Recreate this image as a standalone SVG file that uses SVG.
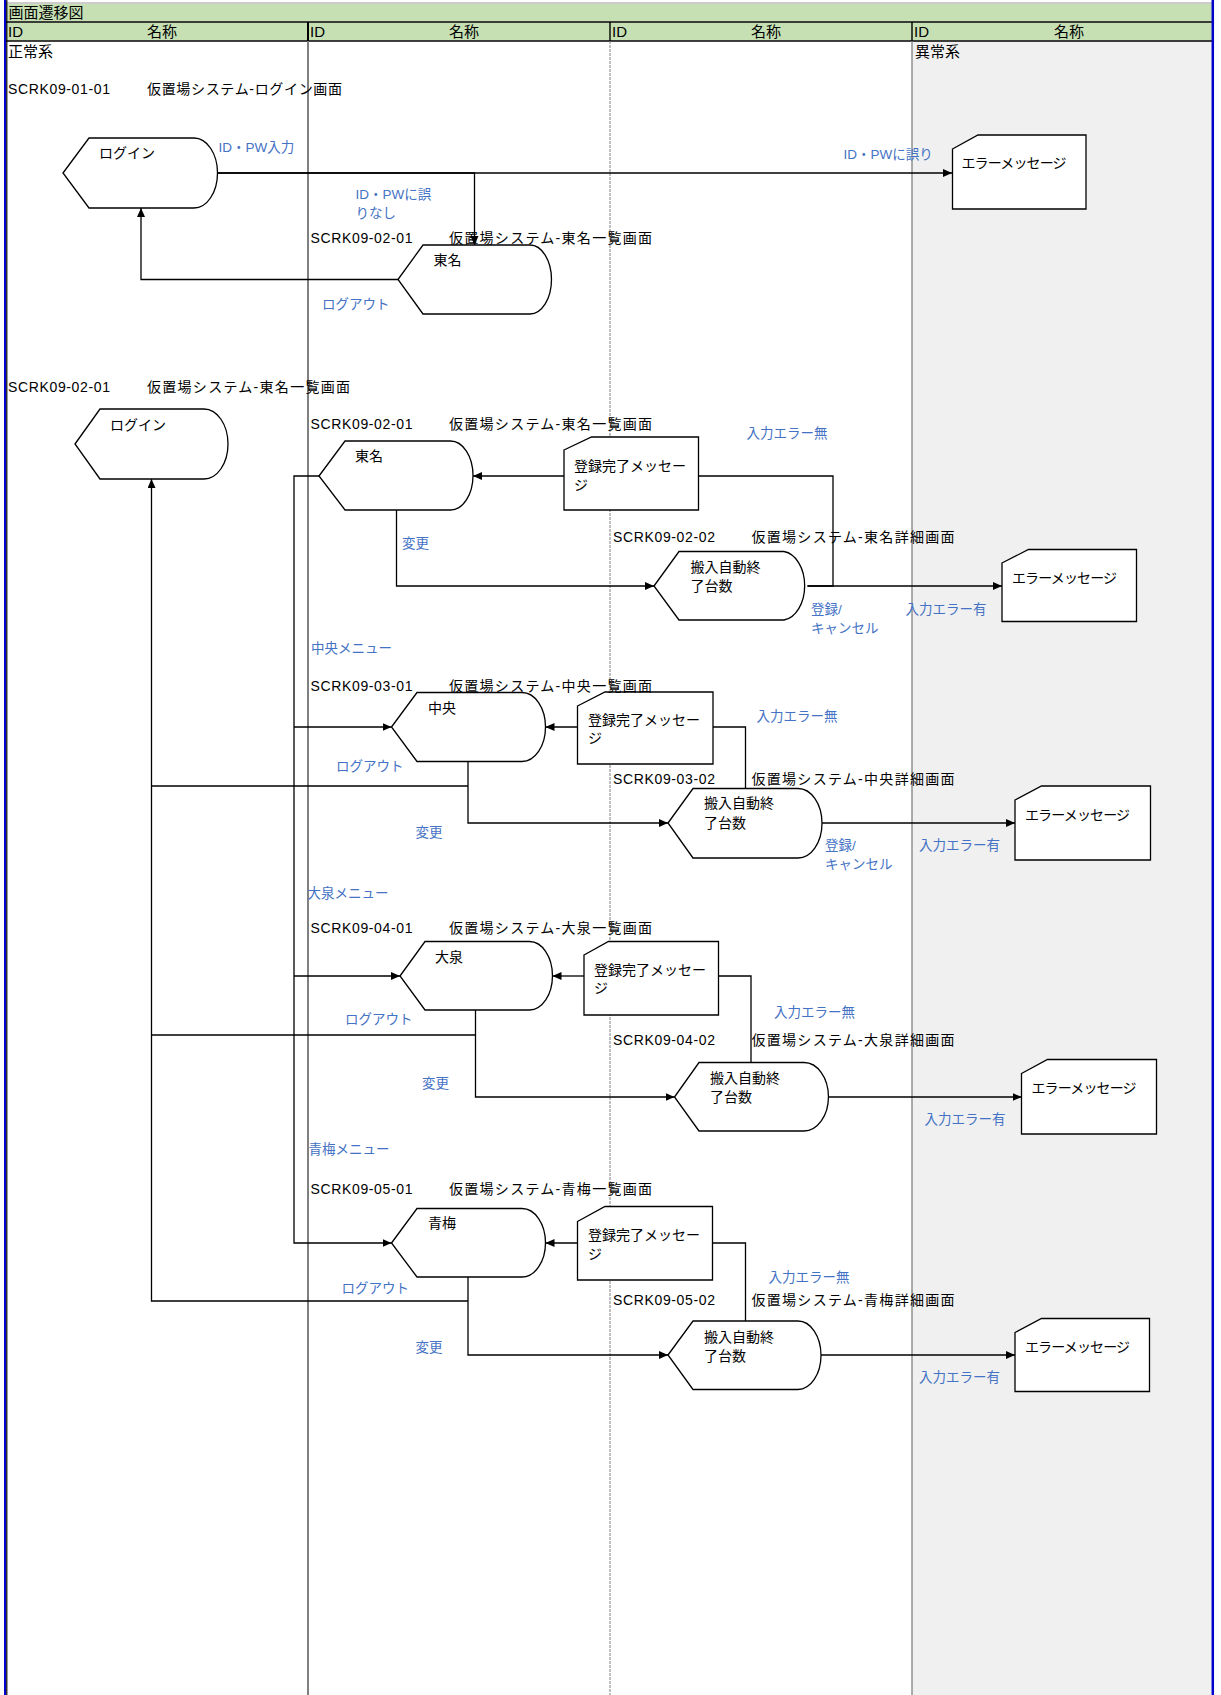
<svg xmlns="http://www.w3.org/2000/svg" width="1221" height="1695" viewBox="0 0 1221 1695">
<style>
text{font-family:"Liberation Sans","Noto Sans CJK JP",sans-serif;font-size:14px;fill:#000}
.h{font-size:15px}
.b{fill:#4472c4;font-size:13.5px}
.n{fill:#fff;stroke:#000;stroke-width:1.3}
.c{fill:none;stroke:#000;stroke-width:1.3}
.a{marker-end:url(#ar)}
</style>
<defs>
<marker id="ar" markerUnits="userSpaceOnUse" markerWidth="9" markerHeight="8" refX="9" refY="4" orient="auto"><path d="M0,0L9,4L0,8Z" fill="#000"/></marker>
</defs>
<rect x="0" y="0" width="1221" height="1695" fill="#fff"/>
<g id="lanes">
<rect x="912" y="41" width="300" height="1654" fill="#f0f0f0"/>
<line x1="5" y1="3" x2="1212" y2="3" stroke="#999" stroke-width="1"/>
<rect x="6" y="4" width="1206" height="17.5" fill="#c6e0b4"/>
<rect x="6" y="22.5" width="1206" height="18" fill="#c6e0b4"/>
<line x1="6" y1="22" x2="1212" y2="22" stroke="#000" stroke-width="1.4"/>
<line x1="6" y1="41" x2="1212" y2="41" stroke="#000" stroke-width="1.4"/>
<line x1="308" y1="22" x2="308" y2="41" stroke="#000" stroke-width="2"/>
<line x1="610" y1="22" x2="610" y2="41" stroke="#000" stroke-width="1.4"/>
<line x1="912" y1="22" x2="912" y2="41" stroke="#000" stroke-width="1.4"/>
<line x1="308" y1="41" x2="308" y2="1695" stroke="#808080" stroke-width="2"/>
<line x1="610" y1="41" x2="610" y2="1695" stroke="#808080" stroke-width="1" stroke-dasharray="3,1"/>
<line x1="912" y1="41" x2="912" y2="1695" stroke="#808080" stroke-width="1.3"/>
<line x1="5" y1="0" x2="5" y2="1695" stroke="#0000cc" stroke-width="2"/>
<line x1="6.8" y1="0" x2="6.8" y2="1695" stroke="#000" stroke-width="1.2"/>
<line x1="1212.8" y1="0" x2="1212.8" y2="1695" stroke="#0000cc" stroke-width="2.5"/>
<text x="8.5" y="18" class="h">画面遷移図</text>
<text x="8" y="37" class="h">ID</text><text x="162" y="37" class="h" text-anchor="middle">名称</text>
<text x="310" y="37" class="h">ID</text><text x="464" y="37" class="h" text-anchor="middle">名称</text>
<text x="612" y="37" class="h">ID</text><text x="766" y="37" class="h" text-anchor="middle">名称</text>
<text x="914" y="37" class="h">ID</text><text x="1069" y="37" class="h" text-anchor="middle">名称</text>
<text x="8" y="57" class="h">正常系</text>
<text x="915" y="57" class="h">異常系</text>
</g>
<g id="connectors">
<path class="c a" d="M217.5,173H952"/>
<path class="c a" d="M217.5,173H474.5V245"/>
<path class="c a" d="M398,279.5H141V208"/>
<path class="c a" d="M319,476H294V1243H391.5"/>
<path class="c a" d="M294,727H391.5"/>
<path class="c a" d="M294,976H400"/>
<path class="c a" d="M564,476H473"/>
<path class="c a" d="M396.5,510V586H654"/>
<path class="c" d="M807.5,586H833V476H698.5"/>
<path class="c a" d="M807.5,586H1002"/>
<path class="c a" d="M577.5,727H545.5"/>
<path class="c" d="M745.5,788.5V727H713"/>
<path class="c a" d="M468,761.5V823H668"/>
<path class="c" d="M468,786H151.5"/>
<path class="c a" d="M822,823H1015"/>
<path class="c a" d="M584,976H552.5"/>
<path class="c" d="M751,1062.5V976H718.5"/>
<path class="c a" d="M475.5,1010V1097H674.5"/>
<path class="c" d="M475.5,1035H151.5"/>
<path class="c a" d="M828.5,1097H1021.5"/>
<path class="c a" d="M577.5,1243H545.5"/>
<path class="c" d="M745.5,1321V1243H712.5"/>
<path class="c a" d="M468,1277V1355H668"/>
<path class="c a" d="M468,1301H151.5V479"/>
<path class="c a" d="M821,1355H1015"/>
<text class="b" x="218.5" y="151.5">ID・PW入力</text>
<text class="b" x="843.5" y="159">ID・PWに誤り</text>
<text class="b" x="355.5" y="199">ID・PWに誤</text>
<text class="b" x="355.5" y="218">りなし</text>
<text class="b" x="322" y="309">ログアウト</text>
<text class="b" x="746.5" y="437.5">入力エラー無</text>
<text class="b" x="402" y="548">変更</text>
<text class="b" x="811" y="614">登録/</text>
<text class="b" x="811" y="633">キャンセル</text>
<text class="b" x="905.5" y="614">入力エラー有</text>
<text class="b" x="311" y="653">中央メニュー</text>
<text class="b" x="756.5" y="721">入力エラー無</text>
<text class="b" x="336" y="771">ログアウト</text>
<text class="b" x="415.5" y="836.5">変更</text>
<text class="b" x="825" y="850">登録/</text>
<text class="b" x="825" y="869">キャンセル</text>
<text class="b" x="919" y="850">入力エラー有</text>
<text class="b" x="307.5" y="898">大泉メニュー</text>
<text class="b" x="774" y="1017">入力エラー無</text>
<text class="b" x="345" y="1024">ログアウト</text>
<text class="b" x="422" y="1087.5">変更</text>
<text class="b" x="924.5" y="1124">入力エラー有</text>
<text class="b" x="308.5" y="1154">青梅メニュー</text>
<text class="b" x="768.5" y="1281.5">入力エラー無</text>
<text class="b" x="341.5" y="1293">ログアウト</text>
<text class="b" x="415.5" y="1351.5">変更</text>
<text class="b" x="919" y="1381.5">入力エラー有</text>
</g>
<g id="login1"><path class="n" d="M63,173L89,138H194A23.5,35 0 0 1 194,208H89Z"/><text x="99" y="158">ログイン</text></g>
<g id="tomei1"><path class="n" d="M398,279.5L423,245H530A21.5,34.5 0 0 1 530,314H423Z"/><text x="433.5" y="265">東名</text></g>
<g id="err1"><path class="n" d="M952.5,149L978,135H1086V209H952.5Z"/><text x="961.5" y="168" textLength="105">エラーメッセージ</text></g>
<g id="login2"><path class="n" d="M75,444L100,409H204A24,35 0 0 1 204,479H100Z"/><text x="110" y="430">ログイン</text></g>
<g id="tomei2"><path class="n" d="M319,476L345,441H450.5A22.5,34.5 0 0 1 450.5,510H345Z"/><text x="355" y="460.5">東名</text></g>
<g id="done2"><path class="n" d="M564,450L591.5,437H698.5V510H564Z"/><text x="574" y="471">登録完了メッセー</text><text x="574" y="490">ジ</text></g>
<g id="hannyu2"><path class="n" d="M654,586L679,551.5H784A23.5,34.5 0 0 1 784,620H679Z"/><text x="690.5" y="571.5">搬入自動終</text><text x="690.5" y="590.5">了台数</text></g>
<g id="err2"><path class="n" d="M1002,563L1028.5,549.5H1136.5V621.5H1002Z"/><text x="1012" y="582.5" textLength="105">エラーメッセージ</text></g>
<g id="chuo"><path class="n" d="M391.5,727L417,692.5H522A23.5,34.5 0 0 1 522,761.5H417Z"/><text x="428" y="712.5">中央</text></g>
<g id="done3"><path class="n" d="M577.5,706L605,692H713V764H577.5Z"/><text x="588" y="725">登録完了メッセー</text><text x="588" y="743">ジ</text></g>
<g id="hannyu3"><path class="n" d="M668,823L693,788.5H798A24,34.75 0 0 1 798,858H693Z"/><text x="704" y="808">搬入自動終</text><text x="704" y="827.5">了台数</text></g>
<g id="err3"><path class="n" d="M1015,800L1041.5,786H1150.5V860H1015Z"/><text x="1025" y="820" textLength="105">エラーメッセージ</text></g>
<g id="oizumi"><path class="n" d="M400,976L425,941.5H529.5A23,34.25 0 0 1 529.5,1010H425Z"/><text x="435" y="961.5">大泉</text></g>
<g id="done4"><path class="n" d="M584,955L608.5,941.5H718.5V1015H584Z"/><text x="594" y="975">登録完了メッセー</text><text x="594" y="993">ジ</text></g>
<g id="hannyu4"><path class="n" d="M674.5,1097L699,1062.5H804A24.5,34.25 0 0 1 804,1131H699Z"/><text x="710" y="1082.5">搬入自動終</text><text x="710" y="1101.5">了台数</text></g>
<g id="err4"><path class="n" d="M1021.5,1073.5L1047.5,1059.5H1156.5V1134H1021.5Z"/><text x="1031.5" y="1093" textLength="105">エラーメッセージ</text></g>
<g id="ome"><path class="n" d="M391.5,1243L417,1208.5H522A23.5,34.25 0 0 1 522,1277H417Z"/><text x="428" y="1228">青梅</text></g>
<g id="done5"><path class="n" d="M577.5,1221.5L605,1206.5H712.5V1280H577.5Z"/><text x="588" y="1240">登録完了メッセー</text><text x="588" y="1259">ジ</text></g>
<g id="hannyu5"><path class="n" d="M668,1355L693,1321H798A23,34.25 0 0 1 798,1389.5H693Z"/><text x="704" y="1341.5">搬入自動終</text><text x="704" y="1360.5">了台数</text></g>
<g id="err5"><path class="n" d="M1015,1332.5L1041.5,1318.5H1149.5V1391.5H1015Z"/><text x="1025" y="1351.5" textLength="105">エラーメッセージ</text></g>
<g id="screen-labels">
<text x="8" y="94" textLength="102">SCRK09-01-01</text><text x="147" y="94" textLength="195">仮置場システム-ログイン画面</text>
<text x="310.5" y="243" textLength="102">SCRK09-02-01</text><text x="449" y="243" textLength="203">仮置場システム-東名一覧画面</text>
<text x="8" y="392" textLength="102">SCRK09-02-01</text><text x="147" y="392" textLength="203">仮置場システム-東名一覧画面</text>
<text x="310.5" y="429" textLength="102">SCRK09-02-01</text><text x="449" y="429" textLength="203">仮置場システム-東名一覧画面</text>
<text x="613" y="541.5" textLength="102">SCRK09-02-02</text><text x="751.5" y="541.5" textLength="203">仮置場システム-東名詳細画面</text>
<text x="310.5" y="690.5" textLength="102">SCRK09-03-01</text><text x="449" y="690.5" textLength="203">仮置場システム-中央一覧画面</text>
<text x="613" y="784" textLength="102">SCRK09-03-02</text><text x="751.5" y="784" textLength="203">仮置場システム-中央詳細画面</text>
<text x="310.5" y="932.5" textLength="102">SCRK09-04-01</text><text x="449" y="932.5" textLength="203">仮置場システム-大泉一覧画面</text>
<text x="613" y="1045" textLength="102">SCRK09-04-02</text><text x="751.5" y="1045" textLength="203">仮置場システム-大泉詳細画面</text>
<text x="310.5" y="1194" textLength="102">SCRK09-05-01</text><text x="449" y="1194" textLength="203">仮置場システム-青梅一覧画面</text>
<text x="613" y="1305" textLength="102">SCRK09-05-02</text><text x="751.5" y="1305" textLength="203">仮置場システム-青梅詳細画面</text>
</g>
</svg>
